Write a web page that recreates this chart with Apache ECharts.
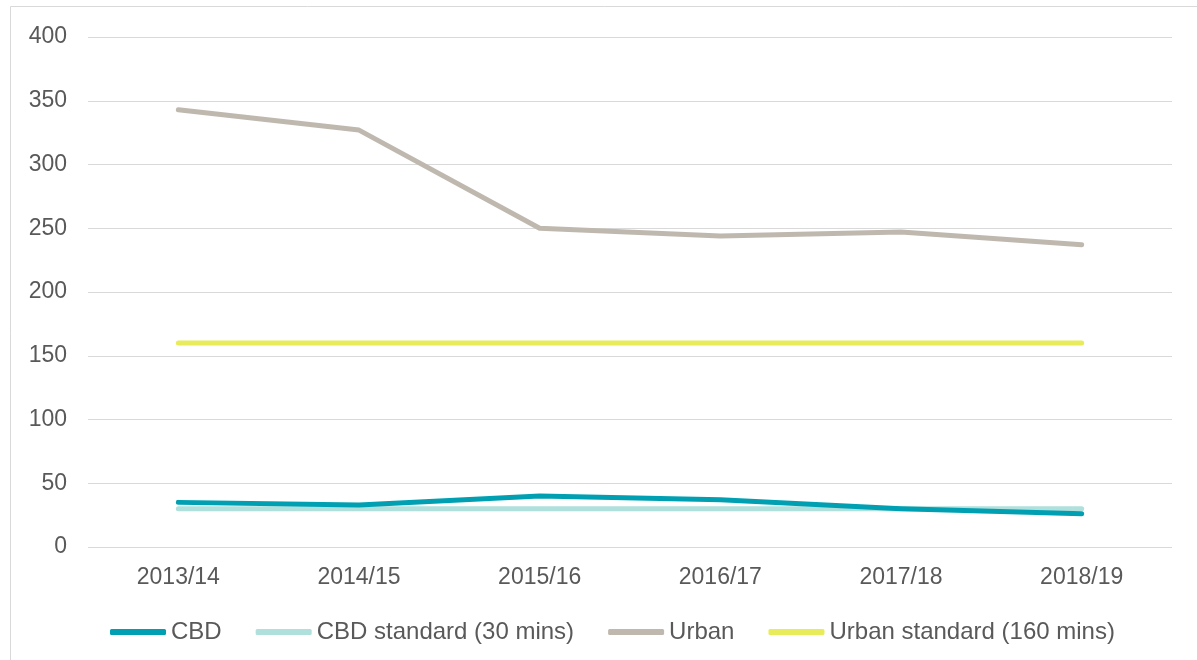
<!DOCTYPE html>
<html><head><meta charset="utf-8">
<script src="https://cdn.jsdelivr.net/npm/echarts@6/dist/echarts.min.js"></script>
<style>html,body{margin:0;padding:0;background:#fff}#c{width:1197px;height:660px}</style>
</head><body><div id="c"></div>
<script>
const categories = ['2013/14','2014/15','2015/16','2016/17','2017/18','2018/19'];
const cbd = [35, 33, 40, 37, 30, 26];
const cbdStandard = [30, 30, 30, 30, 30, 30];
const urban = [343, 327, 250, 244, 247, 237];
const urbanStandard = [160, 160, 160, 160, 160, 160];
const yTicks = [0, 50, 100, 150, 200, 250, 300, 350, 400];
const seriesNames = ['CBD', 'CBD standard (30 mins)', 'Urban', 'Urban standard (160 mins)'];
const seriesColors = ['#00A0B2', '#B0E0DC', '#BFB8AF', '#E9EC5A'];

const chart = echarts.init(document.getElementById('c'));
const lineS = (i, data, z) => ({
  name: seriesNames[i], type: 'line', data, smooth: false, symbol: 'none', z,
  lineStyle: { color: seriesColors[i], width: 5, cap: 'round', join: 'round' }, itemStyle: { color: seriesColors[i] }
});

chart.setOption({
  animation: false,
  graphic: [{ type: 'rect', shape: { x: 10.5, y: 6.5, width: 1200, height: 700 },
    style: { fill: 'none', stroke: '#d9d9d9', lineWidth: 1 }, silent: true }],
  grid: { left: 88, right: 25, top: 37, bottom: 113 },
  legend: {
    left: 105, top: 615, itemWidth: 56, itemHeight: 6, itemGap: 34, icon: 'roundRect',
    textStyle: { fontFamily: 'Liberation Sans, Arial', fontSize: 24, color: '#595959' },
    data: seriesNames
  },
  xAxis: {
    type: 'category', data: categories, boundaryGap: true,
    axisLine: { show: false }, axisTick: { show: false },
    axisLabel: { color: '#595959', fontSize: 23, fontFamily: 'Liberation Sans, Arial', margin: 19 }
  },
  yAxis: {
    type: 'value', min: yTicks[0], max: yTicks[yTicks.length-1], interval: 50,
    axisLine: { show: false }, axisTick: { show: false },
    splitLine: { lineStyle: { color: '#d9d9d9', width: 1 } },
    axisLabel: { color: '#595959', fontSize: 23, fontFamily: 'Liberation Sans, Arial', margin: 21 }
  },
  series: [
    lineS(0, cbd, 4),
    lineS(1, cbdStandard, 3),
    lineS(2, urban, 2),
    lineS(3, urbanStandard, 2)
  ]
});
</script></body></html>
